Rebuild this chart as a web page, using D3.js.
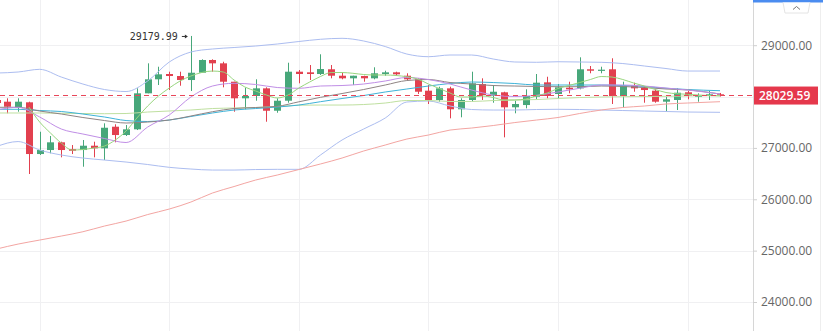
<!DOCTYPE html>
<html>
<head>
<meta charset="utf-8">
<script src="https://cdn.jsdelivr.net/npm/d3@7"></script>
<style>
  html, body { margin: 0; padding: 0; background: #fff; }
  svg { display: block; }
</style>
</head>
<body>
<svg id="chart" width="823" height="331"></svg>
<script>
// ---------- DATA ----------
const openP  = [27933,27900,27783,27888,26881,26959,27109,26978,26959,27043,26992,27413,27251,27362,28063,28336,28439,28400,28322,28464,28712,28647,28289,27966,28011,28160,27724,27919,28484,28472,28439,28531,28406,28355,28400,28355,28439,28472,28406,28336,28114,27933,28160,27752,27933,28244,28017,28083,27791,27835,27997,28277,28050,28172,28160,28531,28503,28531,28011,28211,28172,28114,27900,27933,28083,27997,28017,28044];
const highP  = [27972,27966,27966,27900,27315,27232,27121,27056,27154,27121,27479,27460,27446,28161,28647,28581,28484,28484,29179.99,28725,28725,28678,28289,28172,28336,28180,27966,28659,28517,28614,28823,28614,28464,28406,28406,28570,28503,28484,28453,28355,28225,28192,28192,27966,28484,28355,28225,28094,27919,28141,28439,28386,28244,28289,28764,28595,28581,28745,28289,28270,28205,28141,27997,28161,28108,28063,28108,28070];
const lowP   = [27816,27674,27705,26492,26862,26895,26817,26881,26634,26817,26764,27109,27232,27348,28063,28225,28127,28211,28108,28464,28484,28180,27705,27752,27919,27510,27685,27880,28258,28322,28420,28355,28336,28225,28289,28336,28406,28406,28309,28050,27855,27900,27576,27596,27900,27933,27880,27206,27674,27771,27946,27966,27966,28063,28141,28453,28453,27855,27791,28094,27880,27880,27705,27738,27946,27900,27933,28000];
const closeP = [27874,27802,27900,26881,26959,27109,26959,26945,27043,26992,27393,27251,27362,28063,28336,28433,28400,28322,28464,28712,28647,28289,27966,28011,28160,27724,27919,28484,28439,28439,28536,28406,28355,28406,28355,28453,28472,28433,28336,28094,27933,28160,27752,27933,28258,28030,28094,27791,27855,28011,28270,28011,28180,28141,28531,28503,28523,28011,28205,28160,28127,27900,27946,28075,28017,28017,28044,28029.59];

// indicator lines, sampled at candle indices
const lineIdx = [0,2,4,6,8,10,12,14,16,18,20,22,24,26,28,30,32,34,36,38,40,42,44,46,48,50,52,54,56,58,60,62,64,67];
const bollUpper = [28458,28478,28530,28380,28244,28137,28098,28303,28673,28867,28926,28955,28984,29023,29072,29115,29134,29082,28974,28828,28776,28809,28809,28731,28673,28667,28678,28673,28667,28643,28595,28546,28497,28497];
const bollLower = [27027,27124,26959,26862,26803,26764,26725,26677,26622,26589,26569,26569,26579,26583,26583,26862,27154,27368,27582,27894,27913,27816,27748,27738,27738,27748,27752,27748,27738,27728,27718,27709,27699,27693];
const maLong    = [25031,25128,25206,25284,25368,25479,25576,25703,25810,25946,26122,26248,26375,26472,26579,26687,26803,26940,27056,27173,27251,27348,27387,27436,27494,27543,27592,27670,27738,27787,27816,27855,27874,27900];
const maPale    = [27680,27680,27680,27674,27670,27666,27670,27699,27719,27738,27767,27777,27787,27806,27832,27835,27835,27845,27874,27923,27923,27904,27904,27923,27933,27942,27962,27981,27991,27997,28001,28005,28011,28020];
const maTeal    = [27752,27752,27728,27709,27660,27602,27533,27514,27543,27612,27680,27738,27767,27796,27835,27900,27962,28020,28089,28147,28205,28254,28283,28273,28254,28225,28225,28225,28225,28215,28196,28161,28137,28114];
const maGrey    = [27791,27791,27718,27660,27592,27533,27485,27504,27543,27621,27705,27767,27787,27810,27898,27985,28059,28137,28225,28312,28332,28273,28244,28215,28205,28196,28192,28192,28205,28196,28176,28147,28128,28050];
const maPurple  = [27738,27791,27602,27368,27271,27183,27105,27407,27641,27991,28205,28258,28235,28176,28161,28205,28215,28244,28303,28371,28332,28244,28127,28030,28001,28024,28089,28161,28225,28225,28205,28166,28128,28050];
const fastIdx = [3,4,5,6,7,8,9,10,11,12,13,14,15,16,17,18,19,20,21,22,23,24,25,26,27,28,29,30,31,32,33,34,35,36,37,38,39,40,41,42,43,44,45,46,47,48,49,50,51,52,53,54,55,56,57,58,59,60,61,62,63,64,65,66,67];
const maFast    = [27796,27504,27290,27095,26959,26969,26998,27037,27154,27329,27582,27816,28011,28166,28303,28400,28468,28497,28478,28322,28186,28108,28030,27972,28030,28166,28283,28390,28468,28468,28453,28429,28420,28420,28410,28386,28342,28244,28157,28069,27991,27991,28011,27981,27933,27933,27952,28011,28069,28157,28215,28273,28332,28390,28380,28332,28264,28205,28137,28079,28055,28044,28030,28020,28011];

const gridTicks = [24000,25000,26000,27000,28000,29000];
const labelTicks = [24000,25000,26000,27000,29000]; // 28000 label is covered by the last-price tag
const gridIdx = [4,16,28,40,52,64];
const lastPrice = 28029.59;
const maxLabel = "29179.99";
const maxIdx = 18;

// ---------- LAYOUT ----------
const W = 823, H = 331, axisX = 753;
const upColor = "#47a77a", downColor = "#e2404f";
const svg = d3.select("#chart");

const x = d3.scaleLinear().domain([0, 67]).range([-3.5, 720]);
const y = d3.scaleLinear().domain([29000, 24000]).range([45.2, 302]);

svg.append("rect").attr("width", W).attr("height", H).attr("fill", "#fff");

svg.append("defs").append("clipPath").attr("id", "plot")
  .append("rect").attr("x", 0).attr("y", 0).attr("width", axisX).attr("height", H);

const plot = svg.append("g").attr("clip-path", "url(#plot)");

// grid
plot.append("g").selectAll("line.h").data(gridTicks).join("line")
  .attr("x1", 0).attr("x2", axisX)
  .attr("y1", d => Math.round(y(d)) + 0.5).attr("y2", d => Math.round(y(d)) + 0.5)
  .attr("stroke", "#f0f0f2").attr("stroke-width", 1);
plot.append("g").selectAll("line.v").data(gridIdx).join("line")
  .attr("x1", d => Math.round(x(d)) + 0.5).attr("x2", d => Math.round(x(d)) + 0.5)
  .attr("y1", 0).attr("y2", H)
  .attr("stroke", "#f0f0f2").attr("stroke-width", 1);

// candles
const candles = d3.range(openP.length).map(i => ({i, o: openP[i], h: highP[i], l: lowP[i], c: closeP[i]}));
const cg = plot.append("g");
cg.selectAll("line").data(candles).join("line")
  .attr("x1", d => Math.round(x(d.i)) + 0.5).attr("x2", d => Math.round(x(d.i)) + 0.5)
  .attr("y1", d => y(d.h)).attr("y2", d => y(d.l))
  .attr("stroke", d => d.c >= d.o ? upColor : downColor).attr("stroke-width", 1);
cg.selectAll("rect").data(candles).join("rect")
  .attr("x", d => Math.round(x(d.i)) - 3).attr("width", 7)
  .attr("y", d => y(Math.max(d.o, d.c)))
  .attr("height", d => Math.max(1.2, y(Math.min(d.o, d.c)) - y(Math.max(d.o, d.c))))
  .attr("fill", d => d.c >= d.o ? upColor : downColor);

// indicator lines
function drawLine(idx, vals, color) {
  const pts = idx.map((k, j) => [x(k), y(vals[j])]);
  plot.append("path").attr("d", d3.line().curve(d3.curveMonotoneX)(pts))
    .attr("fill", "none").attr("stroke", color).attr("stroke-width", 1);
}
drawLine(lineIdx, bollUpper, "#acbdf0");
drawLine(lineIdx, bollLower, "#acbdf0");
drawLine(lineIdx, maLong, "#f3a5a2");
drawLine(lineIdx, maPale, "#bfe0a0");
drawLine(lineIdx, maTeal, "#3fb3d8");
drawLine(lineIdx, maGrey, "#8f8484");
drawLine(lineIdx, maPurple, "#c08ee6");
drawLine(fastIdx, maFast, "#98d67e");

// last price dashed line
plot.append("line")
  .attr("x1", 0).attr("x2", axisX)
  .attr("y1", Math.round(y(lastPrice)) + 0.5).attr("y2", Math.round(y(lastPrice)) + 0.5)
  .attr("stroke", "#e8475a").attr("stroke-width", 1).attr("stroke-dasharray", "5,4");

// max annotation
const mx = x(maxIdx), my = y(+maxLabel);
svg.append("text").attr("x", mx - 13).attr("y", my + 4)
  .attr("text-anchor", "end").attr("font-family", "DejaVu Sans Mono, monospace")
  .attr("font-size", 10).attr("fill", "#333").text(maxLabel);
svg.append("line").attr("x1", mx - 9).attr("x2", mx - 4).attr("y1", my + 0.5).attr("y2", my + 0.5)
  .attr("stroke", "#333").attr("stroke-width", 1);
svg.append("path").attr("d", `M${mx - 3},${my + 0.5} L${mx - 6},${my - 1.5} L${mx - 6},${my + 2.5} Z`).attr("fill", "#333");

// right axis
svg.append("line").attr("x1", axisX + 0.5).attr("x2", axisX + 0.5).attr("y1", 0).attr("y2", H)
  .attr("stroke", "#d6d6d6");
svg.append("line").attr("x1", 820.5).attr("x2", 820.5).attr("y1", 0).attr("y2", H)
  .attr("stroke", "#eeeeee");
const ax = svg.append("g").attr("transform", `translate(${axisX},0)`)
  .call(d3.axisRight(y).tickValues(labelTicks).tickSize(4).tickPadding(4).tickFormat(d3.format(".2f")));
ax.select(".domain").remove();
ax.selectAll(".tick line").attr("stroke", "#cfcfcf");
ax.selectAll(".tick text").attr("font-family", "Open Sans, sans-serif").attr("font-size", 12).attr("fill", "#666");

// last price label
const ly = y(lastPrice);
svg.append("rect").attr("x", axisX + 1).attr("y", ly - 8.5).attr("width", 64).attr("height", 18).attr("fill", "#e5384c");
svg.append("text").attr("x", axisX + 6).attr("y", ly + 4.5)
  .attr("font-family", "Open Sans, sans-serif").attr("font-size", 12).attr("font-weight", 600)
  .attr("fill", "#fff").text(d3.format(".2f")(lastPrice));

// top-right widgets
svg.append("rect").attr("x", axisX).attr("y", 0).attr("width", W - axisX).attr("height", 2.5).attr("fill", "#4a8cf0");
svg.append("path").attr("d", "M783,2.5 L785,13 L808,13 L810,2.5").attr("fill", "#fff").attr("stroke", "#e4e4e4");
svg.append("path").attr("d", "M793,9.5 L796.5,6.5 L800,9.5").attr("fill", "none").attr("stroke", "#777").attr("stroke-width", 1);
</script>
</body>
</html>
